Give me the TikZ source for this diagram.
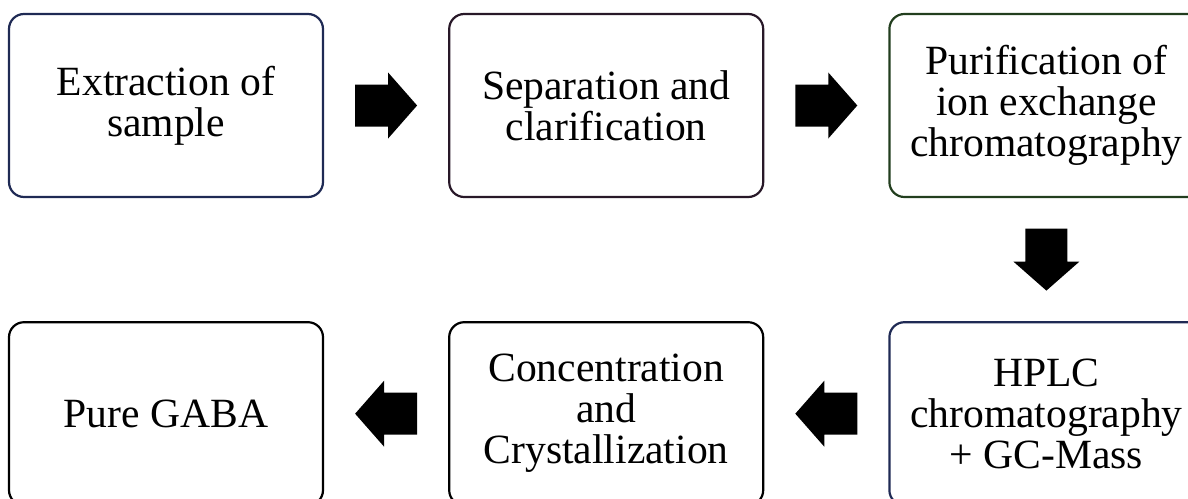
\documentclass[tikz,border=0pt]{standalone}
\usepackage{fontspec}
\setmainfont{Liberation Serif}
\usetikzlibrary{positioning,calc}
\definecolor{navyline}{RGB}{31,42,84}
\definecolor{plumline}{RGB}{40,24,40}
\definecolor{greenline}{RGB}{34,62,30}
\begin{document}
\begin{tikzpicture}[x=1pt,y=1pt,node distance=61.5pt and 62pt,stage node/.style={draw,line width=1.1pt,rounded corners=7.5pt,minimum width=157pt,minimum height=91.5pt,align=center,inner sep=0pt,font=\fontsize{20.8pt}{20.5pt}\selectfont},
 		pics/block arrow/.style={code={\fill (-15.5,-10.5) -- (1,-10.5) -- (1,-16.5) -- (15.5,0) -- (1,16.5) -- (1,10.5) -- (-15.5,10.5) -- cycle;}}]
 		\useasboundingbox (0,0) rectangle (594,-249);
 		\clip (0,0) rectangle (594,-249);
 		\node[stage node,draw=navyline] (1) at (83,-52.75) {Extraction of\\sample};
 		\node[stage node,draw=plumline] (2) [right=of 1] {Separation and\\clarification};
 		\node[stage node,draw=greenline] (3) [right=of 2] {Purification of\\ion exchange\\chromatography};
 		\node[stage node,draw=navyline] (4) [below=of 3] {HPLC\\chromatography\\+ GC-Mass};
 		\node[stage node] (5) [left=of 4] {Concentration\\and\\Crystallization};
 		\node[stage node] (6) [left=of 5] {Pure GABA};
 		
 		\pic at ($(1.east)!0.5!(2.west)$) {block arrow};
 		\pic at ($(2.east)!0.5!(3.west)$) {block arrow};
 		\pic[rotate=-90] at ($(3.south)!0.5!(4.north)$) {block arrow};
 		\pic[rotate=180] at ($(4.west)!0.5!(5.east)$) {block arrow};
 		\pic[rotate=180] at ($(5.west)!0.5!(6.east)$) {block arrow};
 		\end{tikzpicture}
\end{document}
